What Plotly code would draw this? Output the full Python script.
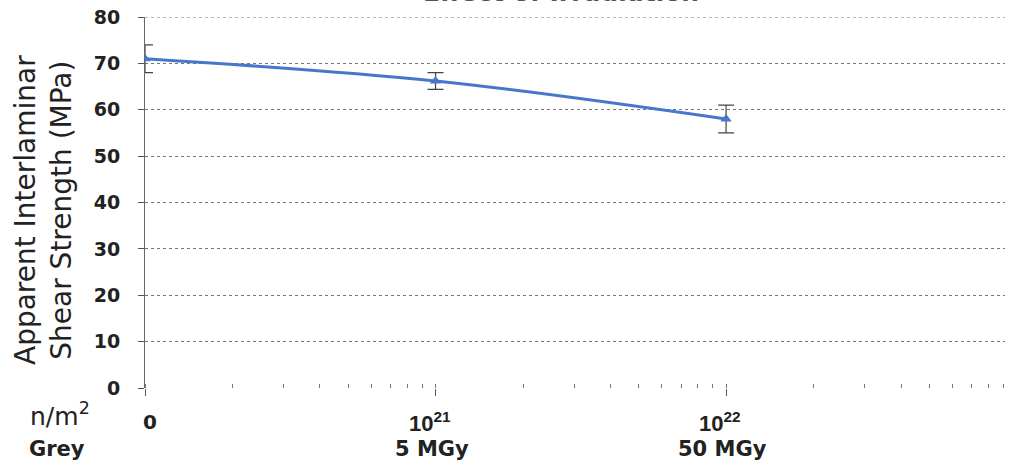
import math
import plotly.graph_objects as go

# ---- data ----
fluence = [1e20, 1e21, 1e22]          # n/m^2 (first point sits at axis origin, labelled "0")
strength = [71.0, 66.2, 58.0]         # MPa
err = [3.0, 1.8, 3.0]                 # MPa

x_tick_pos = [1e20, 1e21, 1e22]
x_tick_top = ["0", "10<sup>21</sup>", "10<sup>22</sup>"]
x_tick_bottom = ["", "5 MGy", "50 MGy"]
y_ticks = [0, 10, 20, 30, 40, 50, 60, 70, 80]

# ---- layout geometry (page px, body margin removed) ----
L, T, R, B = 145, 17, 1005, 388
W, H = R - L, B - T
FW, FH = 1010, 461


def px(xp):
    return (xp - L) / W


def py(yp):
    return (B - yp) / H


fig = go.Figure()
fig.add_trace(go.Scatter(
    x=fluence, y=strength,
    mode="lines+markers",
    line=dict(color="#4777CC", width=3, shape="spline", smoothing=1),
    marker=dict(symbol="triangle-up", size=10, color="#4777CC"),
    error_y=dict(type="data", array=err, visible=True, color="#444444", thickness=1.2, width=8),
    showlegend=False,
))

fig.update_layout(
    width=FW, height=FH,
    margin=dict(l=L, r=FW - R, t=T, b=FH - B),
    paper_bgcolor="white", plot_bgcolor="white",
    font=dict(family="Liberation Sans, Arial, sans-serif", color="#222222"),
    xaxis=dict(
        type="log", range=[20, 22.96], automargin=False,
        tickmode="linear", tick0=20, dtick=1,
        showticklabels=False, showgrid=False, zeroline=False, showline=False,
        ticks="outside", ticklen=7, tickcolor="#555555",
        minor=dict(dtick="D1", ticks="inside", ticklen=4, tickcolor="#777777", showgrid=False),
    ),
    yaxis=dict(
        range=[0, 80], tickvals=y_ticks, automargin=False,
        showgrid=True, gridcolor="#777777", griddash="dot", gridwidth=1,
        zeroline=False, showline=True, linecolor="#666666", linewidth=1,
        ticks="outside", ticklen=6, tickcolor="#555555",
        tickfont=dict(family="DejaVu Sans", size=19, weight="bold", color="#222222"),
        ticklabelstandoff=14, ticklabeloverflow="allow",
    ),
)

# top gridline at 80
fig.add_shape(type="line", xref="paper", yref="y", x0=0, x1=1, y0=80, y1=80,
              line=dict(color="#777777", width=1, dash="dot"))

# y axis title
fig.add_annotation(x=px(43), y=py(210), xref="paper", yref="paper", showarrow=False,
                   xanchor="center", yanchor="middle",
                   textangle=-90, text="Apparent Interlaminar<br>Shear Strength (MPa)",
                   font=dict(family="DejaVu Sans", size=28, color="#222222"))

# x tick labels
for xv, top, bot in zip(x_tick_pos, x_tick_top, x_tick_bottom):
    if top == "0":
        fig.add_annotation(x=px(150), y=py(422), xref="paper", yref="paper",
                           xanchor="center", yanchor="middle", showarrow=False, text=top,
                           font=dict(family="DejaVu Sans", size=20, weight="bold", color="#222222"))
    else:
        fig.add_annotation(x=math.log10(xv), y=py(422), xref="x", yref="paper",
                           xshift=-6, xanchor="center", yanchor="middle", showarrow=False, text=top,
                           font=dict(size=22, weight="bold", color="#222222"))
    if bot:
        fig.add_annotation(x=math.log10(xv), y=py(449), xref="x", yref="paper",
                           xshift=-4, xanchor="center", yanchor="middle", showarrow=False, text=bot,
                           font=dict(family="DejaVu Sans", size=21, weight="bold", color="#222222"))

# unit row labels
fig.add_annotation(x=px(60), y=py(414), xref="paper", yref="paper", showarrow=False,
                   xanchor="center", yanchor="middle", text="n/m<sup>2</sup>",
                   font=dict(family="DejaVu Sans", size=25, color="#222222"))
fig.add_annotation(x=px(57), y=py(449), xref="paper", yref="paper", showarrow=False,
                   xanchor="center", yanchor="middle", text="Grey",
                   font=dict(family="DejaVu Sans", size=21, weight="bold", color="#222222"))

# title, mostly cut off at top of page
fig.add_annotation(x=px(561), y=py(9), xref="paper", yref="paper",
                   xanchor="center", yanchor="bottom", showarrow=False, text="Effect of Irradiation",
                   font=dict(family="DejaVu Sans", size=25, weight="bold", color="#555555"))

fig.write_html("out.html", config={"displayModeBar": False},
               post_script="document.body.style.margin='0';")
